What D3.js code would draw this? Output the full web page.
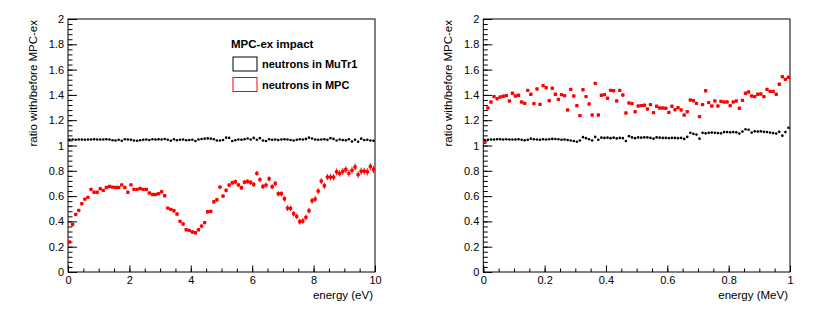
<!DOCTYPE html>
<html>
<head>
<meta charset="utf-8">
<script src="https://cdn.jsdelivr.net/npm/d3@7"></script>
<style>
  body { margin: 0; background: #fff; }
  svg { display: block; font-family: "Liberation Sans", Arial, sans-serif; }
</style>
</head>
<body>
<div id="chart"></div>
<script>
// left panel: 100 bins, 0-10 eV
const lowBlack = [
  1.045, 1.047, 1.046, 1.048, 1.047, 1.046, 1.048, 1.047, 1.049, 1.048,
  1.048, 1.047, 1.049, 1.048, 1.041, 1.040, 1.046, 1.038, 1.050, 1.047,
  1.045, 1.040, 1.037, 1.041, 1.045, 1.047, 1.044, 1.049, 1.047, 1.050,
  1.048, 1.051, 1.046, 1.038, 1.050, 1.042, 1.046, 1.048, 1.041, 1.044,
  1.046, 1.036, 1.047, 1.051, 1.054, 1.056, 1.054, 1.050, 1.040, 1.040,
  1.044, 1.062, 1.060, 1.035, 1.042, 1.048, 1.046, 1.050, 1.055, 1.048,
  1.060, 1.045, 1.058, 1.040, 1.035, 1.050, 1.046, 1.048, 1.044, 1.047,
  1.050, 1.047, 1.044, 1.040, 1.046, 1.050, 1.048, 1.052, 1.062, 1.055,
  1.048, 1.045, 1.047, 1.050, 1.046, 1.058, 1.052, 1.040, 1.048, 1.044,
  1.042, 1.050, 1.032, 1.046, 1.030, 1.054, 1.044, 1.046, 1.040, 1.038
];
const lowRed = [
  0.237, 0.376, 0.455, 0.487, 0.540, 0.576, 0.590, 0.653, 0.630, 0.630,
  0.658, 0.645, 0.668, 0.676, 0.671, 0.668, 0.668, 0.689, 0.668, 0.630,
  0.689, 0.653, 0.653, 0.660, 0.653, 0.653, 0.624, 0.613, 0.613, 0.618,
  0.634, 0.603, 0.505, 0.495, 0.484, 0.458, 0.400, 0.379, 0.334, 0.329,
  0.316, 0.310, 0.334, 0.363, 0.390, 0.476, 0.479, 0.555, 0.571, 0.671,
  0.600, 0.645, 0.687, 0.705, 0.713, 0.689, 0.666, 0.710, 0.716, 0.708,
  0.692, 0.780, 0.730, 0.676, 0.687, 0.737, 0.674, 0.700, 0.618, 0.618,
  0.579, 0.505, 0.503, 0.460, 0.440, 0.397, 0.403, 0.432, 0.484, 0.563,
  0.576, 0.639, 0.718, 0.682, 0.750, 0.750, 0.750, 0.792, 0.780, 0.795,
  0.810, 0.780, 0.803, 0.830, 0.770, 0.797, 0.797, 0.792, 0.834, 0.810
];
const lowRedErr = [
  0.006, 0.006, 0.006, 0.006, 0.006, 0.007, 0.007, 0.007, 0.007, 0.007,
  0.007, 0.007, 0.008, 0.008, 0.008, 0.008, 0.008, 0.008, 0.009, 0.009,
  0.009, 0.009, 0.009, 0.009, 0.010, 0.010, 0.010, 0.010, 0.010, 0.010,
  0.011, 0.011, 0.011, 0.011, 0.012, 0.012, 0.012, 0.012, 0.012, 0.012,
  0.013, 0.013, 0.013, 0.014, 0.014, 0.014, 0.015, 0.015, 0.015, 0.015,
  0.016, 0.016, 0.016, 0.017, 0.017, 0.017, 0.018, 0.018, 0.018, 0.018,
  0.019, 0.019, 0.019, 0.020, 0.020, 0.020, 0.020, 0.021, 0.021, 0.021,
  0.021, 0.022, 0.022, 0.022, 0.022, 0.023, 0.023, 0.023, 0.023, 0.024,
  0.024, 0.024, 0.024, 0.025, 0.025, 0.025, 0.025, 0.026, 0.026, 0.026,
  0.026, 0.027, 0.027, 0.027, 0.027, 0.028, 0.028, 0.028, 0.028, 0.029
];

// right panel: 100 bins, 0-1 MeV
const highBlack = [
  1.043, 1.046, 1.047, 1.048, 1.050, 1.049, 1.048, 1.050, 1.048, 1.047,
  1.048, 1.049, 1.046, 1.042, 1.045, 1.054, 1.049, 1.048, 1.046, 1.050,
  1.047, 1.049, 1.052, 1.051, 1.050, 1.046, 1.048, 1.044, 1.040, 1.036,
  1.030, 1.040, 1.066, 1.058, 1.050, 1.040, 1.068, 1.046, 1.062, 1.060,
  1.062, 1.058, 1.062, 1.056, 1.060, 1.058, 1.035, 1.074, 1.064, 1.058,
  1.064, 1.062, 1.064, 1.064, 1.060, 1.054, 1.064, 1.062, 1.060, 1.060,
  1.058, 1.060, 1.060, 1.058, 1.060, 1.052, 1.068, 1.100, 1.092, 1.086,
  1.054, 1.100, 1.096, 1.100, 1.102, 1.100, 1.098, 1.096, 1.106, 1.106,
  1.104, 1.106, 1.104, 1.094, 1.110, 1.128, 1.124, 1.102, 1.112, 1.110,
  1.112, 1.108, 1.106, 1.102, 1.098, 1.094, 1.108, 1.078, 1.106, 1.140
];
const highRed = [
  1.025, 1.296, 1.344, 1.386, 1.370, 1.383, 1.389, 1.394, 1.352, 1.413,
  1.391, 1.397, 1.344, 1.333, 1.436, 1.405, 1.331, 1.447, 1.325, 1.473,
  1.457, 1.354, 1.452, 1.405, 1.365, 1.402, 1.394, 1.281, 1.444, 1.391,
  1.315, 1.236, 1.441, 1.386, 1.328, 1.241, 1.491, 1.241, 1.397, 1.402,
  1.373, 1.436, 1.433, 1.352, 1.436, 1.399, 1.257, 1.336, 1.331, 1.267,
  1.312, 1.315, 1.318, 1.289, 1.323, 1.260, 1.310, 1.296, 1.296, 1.294,
  1.262, 1.310, 1.283, 1.299, 1.281, 1.241, 1.267, 1.360, 1.354, 1.333,
  1.228, 1.323, 1.433, 1.339, 1.312, 1.352, 1.312, 1.349, 1.344, 1.344,
  1.315, 1.344, 1.352, 1.294, 1.357, 1.413, 1.423, 1.391, 1.386, 1.405,
  1.407, 1.386, 1.444, 1.428, 1.428, 1.405, 1.484, 1.544, 1.523, 1.539
];

const yTicks = [0, 0.2, 0.4, 0.6, 0.8, 1, 1.2, 1.4, 1.6, 1.8, 2];
const lowXTicks = [0, 2, 4, 6, 8, 10];
const highXTicks = [0, 0.2, 0.4, 0.6, 0.8, 1];
const yTitle = "ratio with/before MPC-ex";
const legendTitle = "MPC-ex impact";
const legendLabels = ["neutrons in MuTr1", "neutrons in MPC"];

const W = 830, H = 312;
const svg = d3.select("#chart").append("svg").attr("width", W).attr("height", H);
const fmt = d3.format("~g");

function panel(left, right, xMax, xTicks, xMinorStep, xTitle, black, red, redErr) {
  const top = 19, bottom = 272;
  const x = d3.scaleLinear().domain([0, xMax]).range([left, right]);
  const y = d3.scaleLinear().domain([0, 2]).range([bottom, top]);
  const g = svg.append("g");
  const bw = xMax / black.length;

  // y axis: major + minor ticks pointing inward
  g.append("g").attr("transform", `translate(${left},0)`)
    .call(d3.axisLeft(y).tickValues(d3.range(0, 2.0001, 0.04)).tickSize(-4.5).tickFormat(""))
    .call(a => a.select(".domain").remove());
  g.append("g").attr("transform", `translate(${left},0)`)
    .call(d3.axisLeft(y).tickValues(yTicks).tickSize(-9).tickPadding(4).tickFormat(fmt))
    .call(a => a.select(".domain").remove())
    .call(a => a.selectAll("text").attr("font-size", 11).attr("fill", "#000").attr("font-family", "Liberation Sans, Arial, sans-serif"));

  // x axis
  g.append("g").attr("transform", `translate(0,${bottom})`)
    .call(d3.axisBottom(x).tickValues(d3.range(0, xMax * 1.0001, xMinorStep)).tickSize(-3.5).tickFormat(""))
    .call(a => a.select(".domain").remove());
  g.append("g").attr("transform", `translate(0,${bottom})`)
    .call(d3.axisBottom(x).tickValues(xTicks).tickSize(-6.5).tickPadding(4).tickFormat(fmt))
    .call(a => a.select(".domain").remove())
    .call(a => a.selectAll("text").attr("font-size", 11).attr("fill", "#000").attr("font-family", "Liberation Sans, Arial, sans-serif"));
  g.selectAll(".tick line").attr("stroke", "#000");

  // frame
  g.append("rect")
    .attr("x", left).attr("y", top)
    .attr("width", right - left).attr("height", bottom - top)
    .attr("fill", "none").attr("stroke", "#000").attr("stroke-width", 1);

  // titles
  g.append("text")
    .attr("transform", `translate(${left - 31},${top + 1}) rotate(-90)`)
    .attr("text-anchor", "end")
    .attr("font-size", 11.5)
    .text(yTitle);
  g.append("text")
    .attr("x", right - 2).attr("y", 299)
    .attr("text-anchor", "end")
    .attr("font-size", 11.5)
    .text(xTitle);

  // red error bars
  if (redErr) {
    g.append("g").selectAll("line")
      .data(red)
      .join("line")
      .attr("x1", (d, i) => x((i + 0.5) * bw))
      .attr("x2", (d, i) => x((i + 0.5) * bw))
      .attr("y1", (d, i) => y(d - redErr[i]))
      .attr("y2", (d, i) => y(d + redErr[i]))
      .attr("stroke", "#ff0000")
      .attr("stroke-width", 1);
  }

  // red markers
  g.append("g").selectAll("rect")
    .data(red)
    .join("rect")
    .attr("x", (d, i) => x((i + 0.5) * bw) - 1.7)
    .attr("y", d => y(d) - 1.7)
    .attr("width", 3.4).attr("height", 3.4)
    .attr("rx", 0.8)
    .attr("fill", "#ff0000");

  // black markers
  g.append("g").selectAll("circle")
    .data(black)
    .join("circle")
    .attr("cx", (d, i) => x((i + 0.5) * bw))
    .attr("cy", d => y(d))
    .attr("r", 1.3)
    .attr("fill", "#000");

  return g;
}

panel(68, 375, 10, lowXTicks, 0.5, "energy (eV)", lowBlack, lowRed, lowRedErr);
panel(483.3, 790, 1, highXTicks, 0.05, "energy (MeV)", highBlack, highRed, null);

// legend in the left panel
const legend = svg.append("g").attr("font-weight", "bold");
legend.append("text")
  .attr("x", 231).attr("y", 48)
  .attr("font-size", 11.5)
  .text(legendTitle);
const legendColors = ["#000", "#ff0000"];
legendLabels.forEach((label, i) => {
  const yy = 57 + i * 20.5;
  legend.append("rect")
    .attr("x", 233).attr("y", yy)
    .attr("width", 24).attr("height", 14)
    .attr("fill", "none")
    .attr("stroke", legendColors[i])
    .attr("stroke-width", 1);
  legend.append("text")
    .attr("x", 262).attr("y", yy + 11)
    .attr("font-size", 11)
    .text(label);
});
</script>
</body>
</html>
